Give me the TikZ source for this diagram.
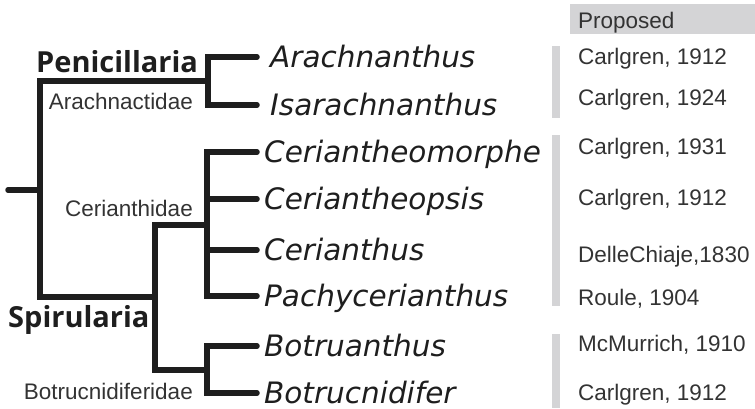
\documentclass[tikz,border=0pt]{standalone}
\usepackage{fontspec}
\newfontfamily\osans{Open Sans}
\newfontfamily\dvs{DejaVu Sans}
\newfontfamily\lsans{Liberation Sans}
\definecolor{tree}{HTML}{1E1E1E}
\definecolor{bar}{HTML}{D4D4D6}
\definecolor{txt}{HTML}{333333}
\begin{document}
\begin{tikzpicture}[x=1pt,y=-1pt,
  branch/.style={draw=tree,line width=5.5pt,line cap=round,line join=miter},
  taxon/.style={anchor=west,inner sep=0pt,text height=21.5pt,text depth=0pt,text=tree,font=\dvs\itshape\fontsize{29.5}{31}\selectfont},
  clade/.style={inner sep=0pt,text height=20.7pt,text depth=0pt,text=tree,font=\osans\bfseries\fontsize{29}{30}\selectfont},
  family/.style={inner sep=0pt,text height=16.1pt,text depth=0pt,text=txt,font=\lsans\fontsize{22.5}{24}\selectfont},
  author/.style={anchor=west,inner sep=0pt,text height=16.1pt,text depth=0pt,text=txt,font=\lsans\fontsize{22.5}{24}\selectfont},
  greybar/.style={fill=bar,draw=none}]
\useasboundingbox (0,0) rectangle (755,408);

% grey header and bars
\fill[bar] (570,4) rectangle (755,34);
\node[author] (prop) at (578,20) {Proposed};
\fill[bar] (552,46) rectangle (560,118);
\fill[bar] (552,135) rectangle (560,306);
\fill[bar] (552,334) rectangle (560,408);

% internal nodes
\coordinate (root) at (8,190);
\coordinate (n0) at (40,190);
\coordinate (pen) at (208,81);
\coordinate (spi) at (155,297);
\coordinate (cer) at (207,225);
\coordinate (bot) at (207,370);

% taxa
\node[taxon] (t1) at (270,57) {Arachnanthus};
\node[taxon] (t2) at (270,105) {Isarachnanthus};
\node[taxon] (t3) at (264,152) {Ceriantheomorphe};
\node[taxon] (t4) at (264,199) {Ceriantheopsis};
\node[taxon] (t5) at (264,250) {Cerianthus};
\node[taxon] (t6) at (264,296) {Pachycerianthus};
\node[taxon] (t7) at (264,346) {Botruanthus};
\node[taxon] (t8) at (264,393) {Botrucnidifer};

% branches
\draw[branch] (root) -- (n0);
\draw[branch] (n0) |- (pen);
\draw[branch] (n0) |- (spi);
\draw[branch] (pen) |- ([xshift=-13pt]t1.west);
\draw[branch] (pen) |- ([xshift=-13pt]t2.west);
\draw[branch] (spi) |- (cer);
\draw[branch] (spi) |- (bot);
\draw[branch] (cer) |- ([xshift=-7pt]t3.west);
\draw[branch] (cer) |- ([xshift=-7pt]t4.west);
\draw[branch] (cer) |- ([xshift=-7pt]t5.west);
\draw[branch] (cer) |- ([xshift=-7pt]t6.west);
\draw[branch] (bot) |- ([xshift=-7pt]t7.west);
\draw[branch] (bot) |- ([xshift=-7pt]t8.west);

% clade and family labels
\node[clade,anchor=west] (lpen) at (36,62) {Penicillaria};
\node[clade,anchor=west] (lspi) at (8,317) {Spirularia};
\node[family,anchor=east] (larach) at (193,101) {Arachnactidae};
\node[family,anchor=east] (lcer) at (193,208) {Cerianthidae};
\node[family,anchor=east] (lbot) at (193,391) {Botrucnidiferidae};

% authorities
\node[author] (a1) at (578,56) {Carlgren, 1912};
\node[author] (a2) at (578,97) {Carlgren, 1924};
\node[author] (a3) at (578,146) {Carlgren, 1931};
\node[author] (a4) at (578,197) {Carlgren, 1912};
\node[author] (a5) at (578,254) {DelleChiaje,1830};
\node[author] (a6) at (578,297) {Roule, 1904};
\node[author] (a7) at (578,343) {McMurrich, 1910};
\node[author] (a8) at (578,392) {Carlgren, 1912};
\end{tikzpicture}
\end{document}
